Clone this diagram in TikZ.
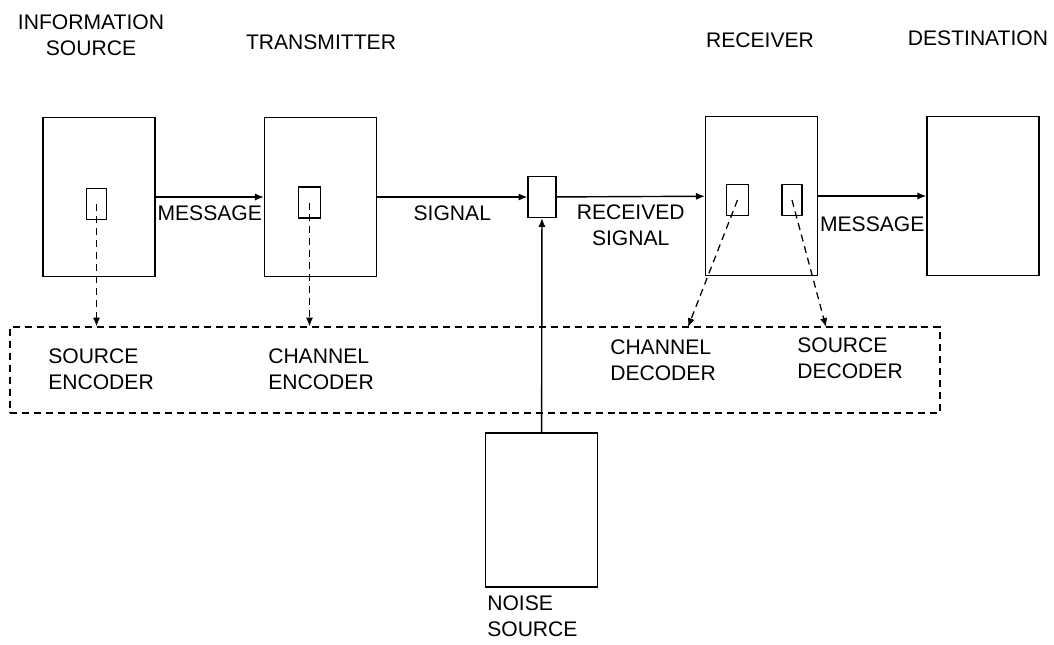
\documentclass[tikz,border=0pt]{standalone}
\usepackage{fontspec}
\setmainfont{Liberation Sans}
\usetikzlibrary{arrows.meta}

\tikzset{
  blk/.style={draw, line width=1pt, minimum width=2.8cm, minimum height=3.975cm, inner sep=0pt},
  sub/.style={draw, line width=0.9pt, minimum width=0.55cm, minimum height=0.78cm, inner sep=0pt},
  lbl/.style={font=\fontsize{15}{18.5}\selectfont, inner sep=0pt},
  sig/.style={line width=1pt, -{Latex[length=2.2mm,width=1.8mm]}},
  dsh/.style={line width=0.9pt, dash pattern=on 5pt off 3.5pt, -{Latex[length=2.2mm,width=1.8mm]}},
}

\begin{document}
\begin{tikzpicture}[x=0.025cm, y=-0.025cm]
\useasboundingbox (0,0) rectangle (1054,645);

% main blocks
\node[blk] (src) at (99,197) {};
\node[blk] (tx) at (320.5,197) {};
\node[blk] (rx) at (761.5,196) {};
\node[blk] (dst) at (983,196) {};
\node[blk, minimum height=3.85cm] (noise) at (541.5,510) {};
\node[draw, line width=0.9pt, minimum width=0.7cm, minimum height=1.025cm, inner sep=0pt] (chan) at (542,197) {};

% inner boxes
\node[sub, minimum width=0.5cm] (senc) at (96.5,204) {};
\node[sub] (cenc) at (309.5,202.5) {};
\node[sub] (cdec) at (737.5,200) {};
\node[sub, minimum width=0.5cm] (sdec) at (792,200) {};

% coding group
\node[draw, line width=0.9pt, dash pattern=on 5pt off 3.5pt, minimum width=23.25cm, minimum height=2.15cm, inner sep=0pt] (grp) at (475,370) {};

% titles
\node[lbl, align=center] at (91,35) {INFORMATION\\SOURCE};
\node[lbl] at (321,42) {TRANSMITTER};
\node[lbl] at (760,40) {RECEIVER};
\node[lbl] at (978,38) {DESTINATION};
\node[lbl, align=left, anchor=west] at (487,616) {NOISE\\SOURCE};

% signal path
\draw[sig] (src) -- node[lbl, below=6pt] {MESSAGE} (tx);
\draw[sig] (tx) -- node[lbl, below=6pt] {SIGNAL} (chan);
\draw[sig] (chan) -- node[lbl, below=5pt, align=center] {RECEIVED\\SIGNAL} (rx);
\draw[sig] (rx) -- node[lbl, below=14pt] {MESSAGE} (dst);
\draw[sig] (noise) -- (chan);

% coders
\coordinate (cdin) at (688,327);
\coordinate (sdin) at (826,327);
\draw[dsh] (senc.center) -- (senc.center |- grp.north);
\draw[dsh] (cenc.center) -- (cenc.center |- grp.north);
\draw[dsh] (cdec.center) -- (cdin);
\draw[dsh] (sdec.center) -- (sdin);

\node[lbl, align=left, anchor=west] at (48,369) {SOURCE\\ENCODER};
\node[lbl, align=left, anchor=west] at (268,369) {CHANNEL\\ENCODER};
\node[lbl, align=left, anchor=west] at (610,360) {CHANNEL\\DECODER};
\node[lbl, align=left, anchor=west] at (797,358) {SOURCE\\DECODER};
\end{tikzpicture}
\end{document}
